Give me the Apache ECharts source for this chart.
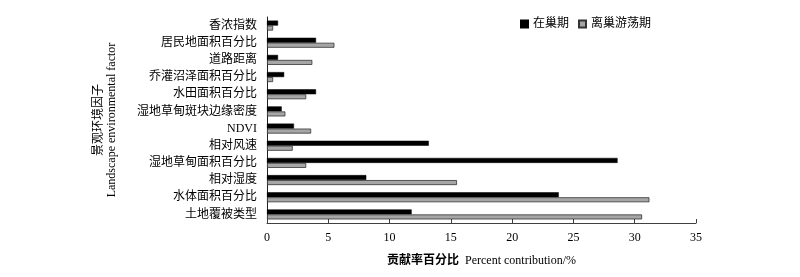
<!DOCTYPE html>
<html>
<head>
<meta charset="utf-8">
<script src="https://cdn.jsdelivr.net/npm/echarts@6/dist/echarts.min.js"></script>
<style>
html,body{margin:0;padding:0;background:#fff;}
#chart{width:800px;height:277px;}
</style>
</head>
<body>
<div id="chart"></div>
<script>
const categories = ['香浓指数','居民地面积百分比','道路距离','乔灌沼泽面积百分比','水田面积百分比','湿地草甸斑块边缘密度','NDVI','相对风速','湿地草甸面积百分比','相对湿度','水体面积百分比','土地覆被类型'];
const nestingValues = [0.9, 4.0, 0.9, 1.4, 4.0, 1.2, 2.2, 13.2, 28.6, 8.1, 23.8, 11.8];
const wanderingValues = [0.5, 5.5, 3.7, 0.5, 3.2, 1.5, 3.6, 2.1, 3.2, 15.5, 31.2, 30.6];
const seriesNames = ['在巢期', '离巢游荡期'];
const xTicks = {min: 0, max: 35, interval: 5};

const FONT = '"Liberation Serif", "Noto Sans CJK SC", serif';
const chart = echarts.init(document.getElementById('chart'), null, {renderer: 'canvas'});
chart.setOption({
  animation: false,
  backgroundColor: '#fff',
  textStyle: {fontFamily: FONT, color: '#000'},
  legend: {
    left: 515, top: 13,
    itemWidth: 7, itemHeight: 7, itemGap: 9,
    icon: 'rect',
    textStyle: {fontFamily: FONT, fontSize: 12, color: '#000'},
    data: seriesNames
  },
  grid: {left: 267, right: 104, top: 17, bottom: 54, containLabel: false},
  xAxis: {
    type: 'value',
    min: xTicks.min, max: xTicks.max, interval: xTicks.interval,
    name: '{b|贡献率百分比}  Percent contribution/%',
    nameLocation: 'middle', nameGap: 32,
    nameTextStyle: {fontFamily: FONT, fontSize: 12, color: '#000',
      rich: {b: {fontFamily: FONT, fontSize: 12, fontWeight: 'bold', color: '#000'}}},
    axisLine: {show: true, lineStyle: {color: '#404040', width: 1}},
    axisTick: {show: true, inside: true, length: 4, lineStyle: {color: '#404040'}},
    axisLabel: {fontFamily: FONT, fontSize: 12, color: '#000', margin: 9},
    splitLine: {show: false}
  },
  yAxis: {
    type: 'category',
    inverse: true,
    data: categories,
    name: '景观环境因子\nLandscape environmental factor',
    nameLocation: 'middle', nameGap: 149, nameRotate: 90,
    nameTextStyle: {fontFamily: FONT, fontSize: 12, color: '#000', lineHeight: 13},
    axisLine: {show: true, lineStyle: {color: '#202020', width: 1}},
    axisTick: {show: false},
    axisLabel: {fontFamily: FONT, fontSize: 12, color: '#000', margin: 10}
  },
  series: [
    {
      name: seriesNames[0], type: 'bar', data: nestingValues,
      barWidth: 5, barGap: '0%',
      itemStyle: {color: '#000', borderColor: '#000', borderWidth: 0.5}
    },
    {
      name: seriesNames[1], type: 'bar', data: wanderingValues,
      barWidth: 5, barGap: '0%',
      itemStyle: {color: '#a6a6a6', borderColor: '#333', borderWidth: 0.8}
    }
  ]
});
</script>
</body>
</html>
